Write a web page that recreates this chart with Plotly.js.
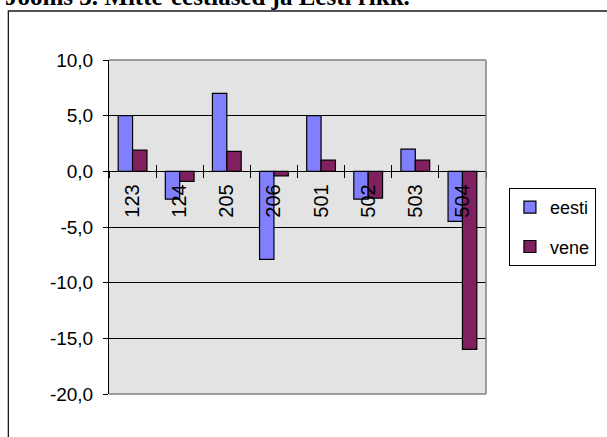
<!DOCTYPE html>
<html>
<head>
<meta charset="utf-8">
<script src="https://cdn.plot.ly/plotly-3.0.1.min.js"></script>
<style>
  html, body { margin: 0; padding: 0; background: #ffffff; }
  #chart { width: 607px; height: 437px; }
</style>
</head>
<body>
<div id="chart"></div>
<script>
// Regions (category labels) and the two language-group series
const regions = ['123', '124', '205', '206', '501', '502', '503', '504'];
const eesti = [5.0, -2.5, 7.0, -7.9, 5.0, -2.5, 2.0, -4.5];
const vene  = [1.9, -0.9, 1.8, -0.4, 1.0, -2.4, 1.0, -16.0];
const yTicks = [-20, -15, -10, -5, 0, 5, 10];

// tick labels with a decimal comma and a plain hyphen as the minus sign
const yTickText = yTicks.map(v => v.toFixed(1).replace('.', ','));

const font = 'Liberation Sans, Arial, sans-serif';

const traces = [
  {
    type: 'bar', name: 'eesti', x: regions, y: eesti,
    marker: { color: '#8080ff', line: { color: '#000000', width: 1.2 } },
    legendgroup: 'a', hoverinfo: 'x+y'
  },
  {
    type: 'bar', name: 'vene', x: regions, y: vene,
    marker: { color: '#80205f', line: { color: '#000000', width: 1.2 } },
    legendgroup: 'b', hoverinfo: 'x+y'
  },
  {
    // carries the categories for the upper half of the crossing tick marks
    type: 'bar', x: regions, y: regions.map(() => null),
    xaxis: 'x2', showlegend: false, hoverinfo: 'skip'
  }
];

const layout = {
  width: 607, height: 437,
  margin: { l: 109, r: 120, t: 60, b: 43, pad: 0 },
  paper_bgcolor: '#ffffff',
  plot_bgcolor: '#e3e3e3',
  barmode: 'group',
  bargap: 0.39,
  bargroupgap: 0,
  font: { family: font, color: '#000000', size: 18 },
  xaxis: {
    type: 'category',
    anchor: 'free', position: 2 / 3,
    range: [-0.5, regions.length - 0.5],
    showline: true, linecolor: '#000000', linewidth: 1,
    showgrid: false,
    ticks: 'outside', ticklen: 6, tickwidth: 1, tickcolor: '#000000',
    tickson: 'boundaries',
    tickangle: -90,
    ticklabelstandoff: 4,
    tickfont: { family: font, size: 20, color: '#000000' },
    fixedrange: true
  },
  xaxis2: {
    type: 'category',
    overlaying: 'x',
    anchor: 'free', position: 2 / 3,
    range: [-0.5, regions.length - 0.5],
    showline: false, showgrid: false,
    ticks: 'inside', ticklen: 6, tickwidth: 1, tickcolor: '#000000',
    tickson: 'boundaries',
    showticklabels: false,
    fixedrange: true
  },
  yaxis: {
    domain: [0, 1],
    range: [-20, 10],
    tickmode: 'array',
    tickvals: yTicks,
    ticktext: yTickText,
    showline: true, linecolor: '#000000', linewidth: 1,
    showgrid: true, gridcolor: '#000000', gridwidth: 1,
    zeroline: true, zerolinecolor: '#000000', zerolinewidth: 1,
    ticks: 'outside', ticklen: 5, tickwidth: 1, tickcolor: '#000000',
    ticklabelstandoff: 6,
    tickfont: { family: font, size: 19, color: '#000000' },
    fixedrange: true
  },
  showlegend: true,
  legend: {
    x: 1.058, y: 0.617, xanchor: 'left', yanchor: 'top',
    bgcolor: '#ffffff', bordercolor: '#000000', borderwidth: 1,
    font: { family: font, size: 18, color: '#000000' },
    traceorder: 'grouped', tracegroupgap: 13,
    itemwidth: 30
  },
  shapes: [
    // plot-area border (top, right, bottom)
    { type: 'line', xref: 'paper', yref: 'paper', x0: 0, x1: 1, y0: 1, y1: 1,
      line: { color: '#808080', width: 1.5 }, layer: 'above' },
    { type: 'line', xref: 'paper', yref: 'paper', x0: 1, x1: 1, y0: 0, y1: 1,
      line: { color: '#808080', width: 1.5 }, layer: 'above' },
    { type: 'line', xref: 'paper', yref: 'paper', x0: 0, x1: 1, y0: 0, y1: 0,
      line: { color: '#808080', width: 1.5 }, layer: 'above' },
    // outer chart frame
    { type: 'rect', xref: 'paper', yref: 'paper',
      x0: -0.267, x1: 1.6, y0: -0.4, y1: 1.1467,
      line: { color: '#1a1a1a', width: 1.3 }, fillcolor: 'rgba(0,0,0,0)', layer: 'below' }
  ],
  annotations: [
    {
      text: 'Joonis 3. Mitte-eestlased ja Eesti rikk.',
      xref: 'paper', yref: 'paper', x: -0.28, y: 1.143,
      xanchor: 'left', yanchor: 'bottom', showarrow: false,
      font: { family: 'Liberation Serif, Times New Roman, serif', size: 25, color: '#000000', weight: 'bold' }
    }
  ]
};

Plotly.newPlot('chart', traces, layout, { displayModeBar: false, staticPlot: true });
</script>
</body>
</html>
